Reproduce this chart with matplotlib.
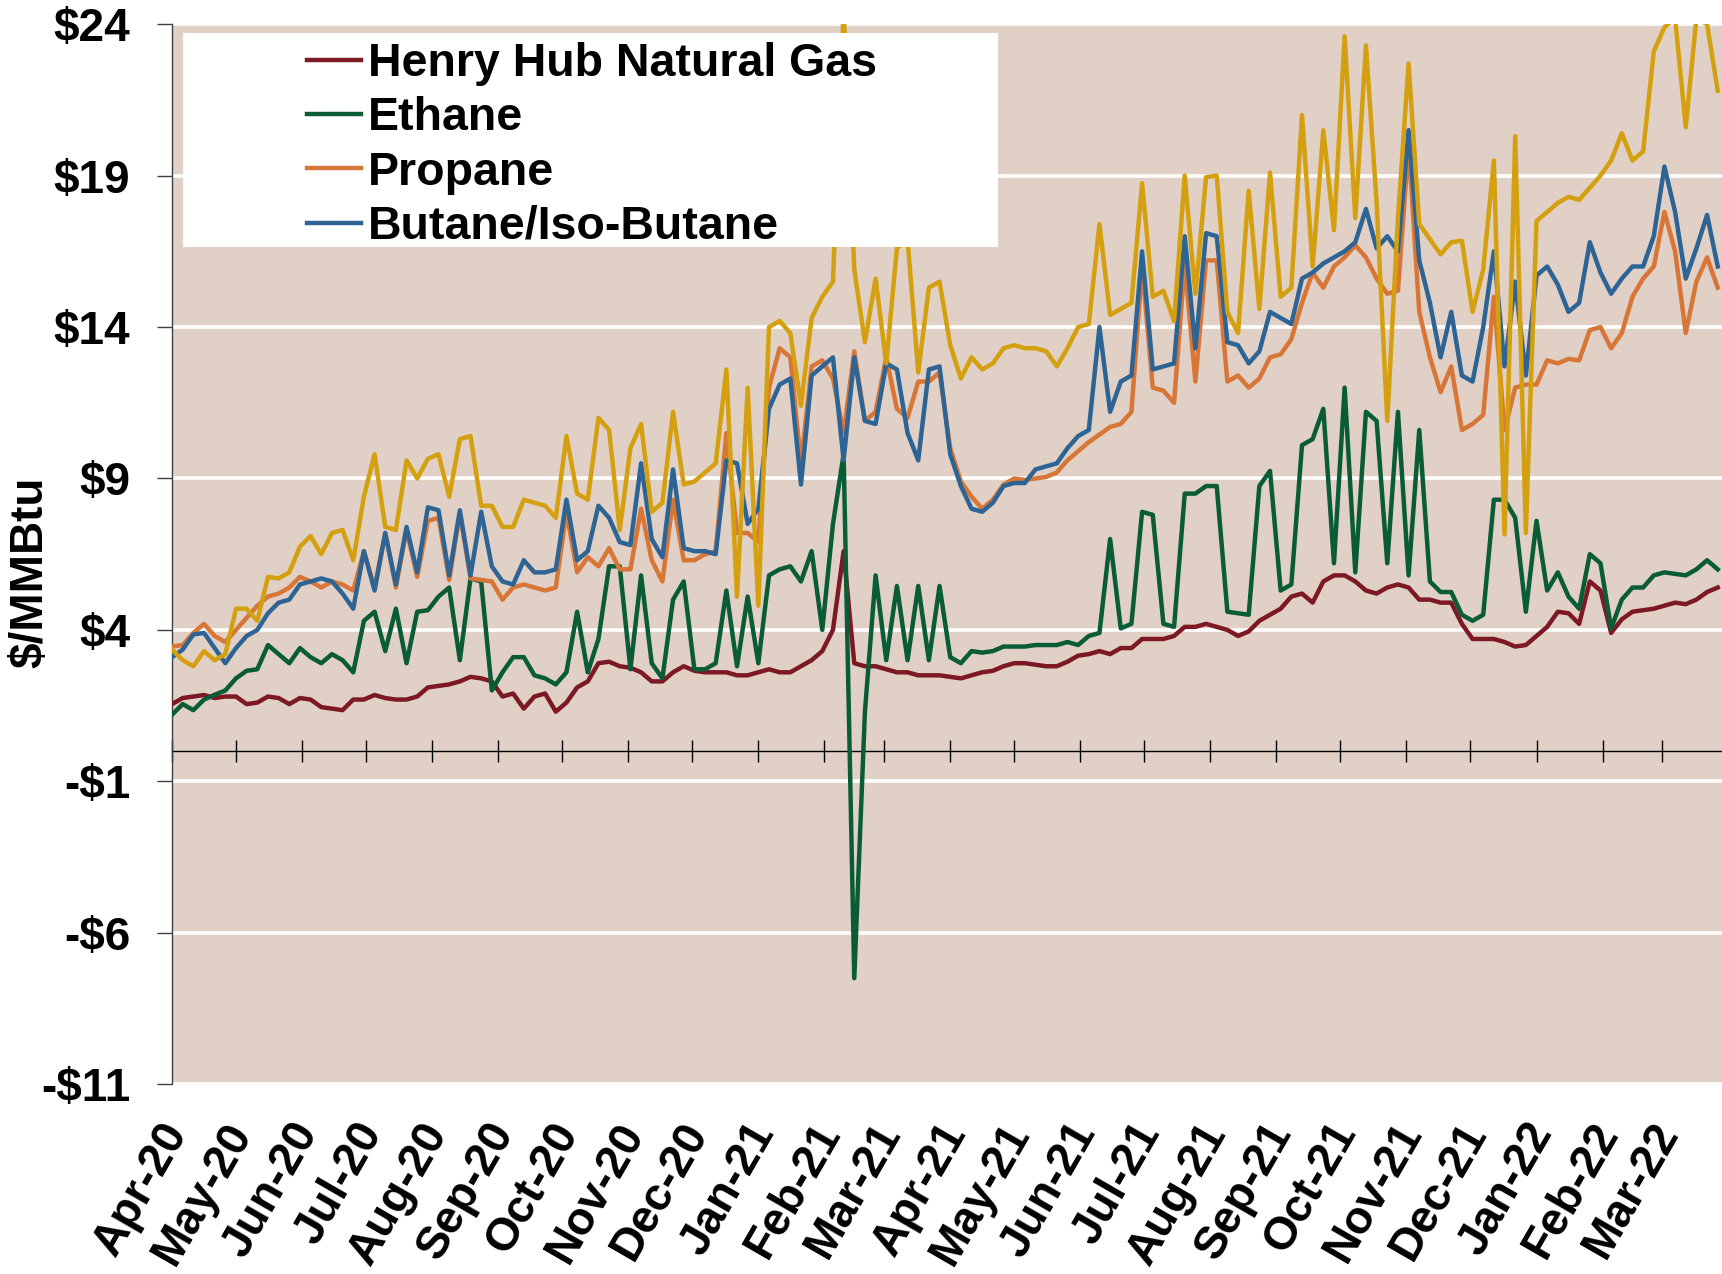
import pandas as pd
import matplotlib
matplotlib.use('Agg')
import matplotlib.pyplot as plt
import matplotlib.dates as mdates
import matplotlib.transforms as mtransforms
from matplotlib.patches import Rectangle
from matplotlib.ticker import FuncFormatter

dates = pd.date_range('2020-04-01', periods=146, freq='5D')

henry_hub = [
    1.55, 1.75, 1.8, 1.85, 1.75, 1.8,
    1.8, 1.55, 1.6, 1.8, 1.75, 1.55,
    1.75, 1.7, 1.45, 1.4, 1.35, 1.7,
    1.7, 1.85, 1.75, 1.7, 1.7, 1.8,
    2.1, 2.15, 2.2, 2.3, 2.45, 2.4, 2.3,
    1.8, 1.9, 1.4, 1.8, 1.9, 1.3,
    1.6, 2.1, 2.3, 2.9, 2.95, 2.8,
    2.75, 2.6, 2.3, 2.3, 2.6, 2.8,
    2.65, 2.6, 2.6, 2.6, 2.5, 2.5,
    2.6, 2.7, 2.6, 2.6, 2.8, 3.0,
    3.3, 4.0, 6.6, 2.9, 2.8, 2.8,
    2.7, 2.6, 2.6, 2.5, 2.5, 2.5,
    2.45, 2.4, 2.5, 2.6, 2.65, 2.8,
    2.9, 2.9, 2.85, 2.8, 2.8, 2.95,
    3.15, 3.2, 3.3, 3.2, 3.4, 3.4,
    3.7, 3.7, 3.7, 3.8, 4.1, 4.1,
    4.2, 4.1, 4.0, 3.8, 3.95, 4.3, 4.5,
    4.7, 5.1, 5.2, 4.9, 5.6, 5.8,
    5.8, 5.6, 5.3, 5.2, 5.4, 5.5,
    5.4, 5.0, 5.0, 4.9, 4.9, 4.2,
    3.7, 3.7, 3.7, 3.6, 3.45, 3.5,
    3.8, 4.1, 4.6, 4.55, 4.2, 5.6,
    5.3, 3.9, 4.35, 4.6, 4.65, 4.7,
    4.8, 4.9, 4.85, 5.0, 5.25, 5.4,
]

ethane = [
    1.2, 1.55, 1.35, 1.7, 1.86, 2.0,
    2.4, 2.65, 2.7, 3.5, 3.2, 2.9,
    3.4, 3.1, 2.9, 3.2, 3.0, 2.6,
    4.3, 4.6, 3.3, 4.7, 2.9, 4.6,
    4.65, 5.1, 5.4, 3.0, 5.7, 5.6, 2.0,
    2.6, 3.1, 3.1, 2.5, 2.4, 2.2,
    2.6, 4.6, 2.6, 3.7, 6.1, 6.1,
    2.7, 5.8, 2.9, 2.4, 5.0, 5.6,
    2.7, 2.7, 2.9, 5.3, 2.8, 5.1,
    2.9, 5.8, 6.0, 6.1, 5.6, 6.6,
    4.0, 7.5, 9.8, -7.5, 1.3, 5.8,
    3.0, 5.45, 3.0, 5.45, 3.0, 5.45,
    3.1, 2.9, 3.3, 3.25, 3.3, 3.45,
    3.45, 3.45, 3.5, 3.5, 3.5, 3.6,
    3.5, 3.8, 3.9, 7.0, 4.05, 4.2,
    7.9, 7.8, 4.2, 4.1, 8.5, 8.5,
    8.75, 8.75, 4.6, 4.55, 4.5, 8.75, 9.25,
    5.3, 5.5, 10.1, 10.3, 11.3, 6.2,
    12.0, 5.9, 11.2, 10.9, 6.2, 11.2,
    5.8, 10.6, 5.6, 5.25, 5.25, 4.5,
    4.3, 4.5, 8.3, 8.3, 7.7, 4.6,
    7.6, 5.3, 5.9, 5.1, 4.7, 6.5,
    6.2, 4.05, 5.0, 5.4, 5.4, 5.8,
    5.9, 5.85, 5.8, 6.0, 6.3, 6.0,
]

propane = [
    3.45, 3.5, 3.9, 4.2, 3.8, 3.6,
    4.0, 4.4, 4.8, 5.1, 5.2, 5.4,
    5.75, 5.6, 5.4, 5.6, 5.5, 5.3,
    6.6, 5.4, 7.2, 5.4, 7.3, 5.75,
    7.6, 7.7, 5.65, 7.85, 5.7, 5.65, 5.6,
    5.0, 5.4, 5.5, 5.4, 5.3, 5.4,
    7.9, 5.9, 6.4, 6.1, 6.7, 6.0,
    6.0, 8.0, 6.3, 5.6, 8.3, 6.3,
    6.3, 6.5, 6.6, 10.5, 7.2, 7.2,
    6.9, 12.0, 13.3, 13.0, 9.5, 12.7,
    12.9, 12.3, 10.5, 13.2, 10.9, 11.2,
    13.0, 11.3, 11.0, 12.2, 12.2, 12.5,
    10.0, 8.9, 8.4, 8.0, 8.3, 8.8,
    9.0, 8.95, 9.0, 9.05, 9.2, 9.6,
    9.9, 10.2, 10.45, 10.7, 10.8, 11.2,
    16.0, 12.0, 11.9, 11.5, 16.1, 12.2,
    16.2, 16.2, 12.2, 12.4, 12.0, 12.3, 13.0,
    13.1, 13.6, 14.8, 15.8, 15.3, 16.0,
    16.3, 16.7, 16.3, 15.6, 15.1, 15.2,
    20.0, 14.5, 13.0, 11.85, 12.7, 10.6,
    10.8, 11.1, 15.0, 10.6, 12.0, 12.1,
    12.1, 12.9, 12.8, 12.95, 12.9, 13.9,
    14.0, 13.3, 13.8, 15.0, 15.6, 16.0,
    17.8, 16.5, 13.8, 15.5, 16.3, 15.3,
]

butane = [
    3.1, 3.35, 3.85, 3.9, 3.4, 2.9,
    3.4, 3.8, 4.0, 4.55, 4.9, 5.0,
    5.5, 5.6, 5.7, 5.6, 5.2, 4.7,
    6.6, 5.3, 7.2, 5.5, 7.4, 5.9,
    8.05, 7.95, 5.8, 7.95, 5.8, 7.9, 6.1,
    5.6, 5.5, 6.3, 5.9, 5.9, 6.0,
    8.3, 6.3, 6.6, 8.1, 7.7, 6.9,
    6.8, 9.5, 7.0, 6.4, 9.3, 6.7,
    6.6, 6.6, 6.5, 9.6, 9.5, 7.5,
    8.0, 11.3, 12.1, 12.3, 8.8, 12.4,
    12.7, 13.0, 9.6, 13.0, 10.9, 10.8,
    12.8, 12.6, 10.5, 9.6, 12.6, 12.7,
    9.8, 8.75, 8.0, 7.9, 8.2, 8.75,
    8.85, 8.85, 9.3, 9.4, 9.5, 10.0,
    10.4, 10.6, 14.0, 11.2, 12.2, 12.4,
    16.5, 12.6, 12.7, 12.8, 17.0, 13.3,
    17.1, 17.0, 13.5, 13.4, 12.8, 13.2, 14.5,
    14.3, 14.1, 15.6, 15.8, 16.1, 16.3,
    16.5, 16.8, 17.9, 16.6, 17.0, 16.5,
    20.5, 16.2, 14.8, 13.0, 14.5, 12.4,
    12.2, 14.0, 16.5, 12.7, 15.5, 12.4,
    15.7, 16.0, 15.4, 14.5, 14.8, 16.8,
    15.8, 15.1, 15.6, 16.0, 16.0, 17.0,
    19.3, 17.8, 15.6, 16.6, 17.7, 16.0,
]

natural_gasoline = [
    3.35, 3.0, 2.8, 3.3, 3.0, 3.2,
    4.7, 4.7, 4.3, 5.75, 5.7, 5.9,
    6.75, 7.1, 6.5, 7.2, 7.3, 6.3,
    8.4, 9.8, 7.4, 7.3, 9.6, 9.0,
    9.65, 9.8, 8.4, 10.3, 10.4, 8.1, 8.1,
    7.4, 7.4, 8.3, 8.2, 8.1, 7.7,
    10.4, 8.5, 8.3, 11.0, 10.6, 7.3,
    10.0, 10.8, 7.9, 8.2, 11.2, 8.8,
    8.9, 9.2, 9.5, 12.6, 5.1, 12.0,
    4.8, 14.0, 14.2, 13.8, 11.4, 14.3,
    15.0, 15.5, 24.5, 15.9, 13.5, 15.6,
    12.8, 16.6, 16.9, 12.5, 15.3, 15.5,
    13.4, 12.3, 13.0, 12.6, 12.8, 13.3,
    13.4, 13.3, 13.3, 13.2, 12.7, 13.3,
    14.0, 14.1, 17.4, 14.4, 14.6, 14.8,
    18.75, 15.0, 15.2, 14.2, 19.0, 15.1,
    18.95, 19.0, 14.5, 13.8, 18.5, 14.6, 19.1,
    15.0, 15.3, 21.0, 16.0, 20.5, 17.2,
    23.6, 17.6, 23.3, 18.1, 10.9, 17.6,
    22.7, 17.4, 16.9, 16.4, 16.8, 16.85,
    14.5, 15.9, 19.5, 7.15, 20.3, 7.2,
    17.5, 17.8, 18.1, 18.3, 18.2, 18.6,
    19.0, 19.5, 20.4, 19.5, 19.8, 23.1,
    23.9, 24.2, 20.6, 24.2, 24.0, 21.8,
]

labels = ['Henry Hub Natural Gas', 'Ethane', 'Propane', 'Butane/Iso-Butane']
colors = ['#7D1923', '#0A5C36', '#D87637', '#2E6494', '#D4A010']
y_ticks = [-11, -6, -1, 4, 9, 14, 19, 24]

plt.rcParams['font.family'] = ['Liberation Sans', 'DejaVu Sans']
plt.rcParams['font.weight'] = 'bold'

fig = plt.figure(figsize=(17.22, 12.74), dpi=100)
ax = fig.add_axes([0.0999, 0.149, 0.9001, 0.832])
ax.set_facecolor('#E0D0C5')

series = [henry_hub, ethane, propane, butane, natural_gasoline]
names = labels + ['_nolegend_']
for vals, col, name in zip(series, colors, names):
    ax.plot(dates, vals, color=col, lw=3.2, label=name, zorder=3)

ax.set_ylim(-11, 24)
ax.set_xlim(dates[0], pd.Timestamp('2022-03-29'))
ax.set_yticks(y_ticks)
ax.yaxis.set_major_formatter(FuncFormatter(lambda v, p: f'-${abs(v):.0f}' if v < 0 else f'${v:.0f}'))
ax.grid(axis='y', color='white', lw=2.6)
ax.set_axisbelow(True)

for s in ['top', 'right', 'bottom']:
    ax.spines[s].set_visible(False)
ax.spines['left'].set_color('#404040')
ax.spines['left'].set_linewidth(1)
ax.tick_params(axis='y', length=11, width=1, color='#404040', pad=19, labelsize=33)

# month labels along the bottom
ax.xaxis.set_major_locator(mdates.MonthLocator())
ax.xaxis.set_major_formatter(mdates.DateFormatter('%b-%y'))
ax.tick_params(axis='x', length=0, pad=30, labelsize=33)
for lab in ax.get_xticklabels():
    lab.set_rotation(60)
    lab.set_ha('right')
    lab.set_va('center')
    lab.set_rotation_mode('anchor')

# zero line with month tick marks crossing it
zero_pos = (0 - y_ticks[0]) / (y_ticks[-1] - y_ticks[0])
sec = ax.secondary_xaxis(zero_pos)
sec.xaxis.set_major_locator(mdates.MonthLocator())
sec.tick_params(axis='x', direction='inout', length=16, width=1, color='black',
                labelbottom=False, labeltop=False)
sec.spines['bottom'].set_color('black')
sec.spines['bottom'].set_linewidth(1)

ax.set_ylabel('$/MMBtu', fontsize=33, fontweight='bold')
ax.yaxis.set_label_coords(-0.077, 0.483)

# white legend box
ax.add_patch(Rectangle((0.0071, 0.790), 0.526, 0.2017, transform=ax.transAxes,
                       facecolor='white', edgecolor='none', zorder=5))
leg = ax.legend(loc='upper left', bbox_to_anchor=(0.0874, 0.983), frameon=False,
                prop={'size': 33.5, 'weight': 'bold'}, handlelength=1.15,
                handletextpad=0.15, labelspacing=0.22, borderpad=0, borderaxespad=0)
leg.set_zorder(6)

# nudge the rotated month labels a little to the right
fig.canvas.draw()
shift = mtransforms.ScaledTranslation(0.06, 0, fig.dpi_scale_trans)
for lab in ax.get_xticklabels():
    lab.set_transform(lab.get_transform() + shift)

fig.savefig('out.png', dpi=100)
